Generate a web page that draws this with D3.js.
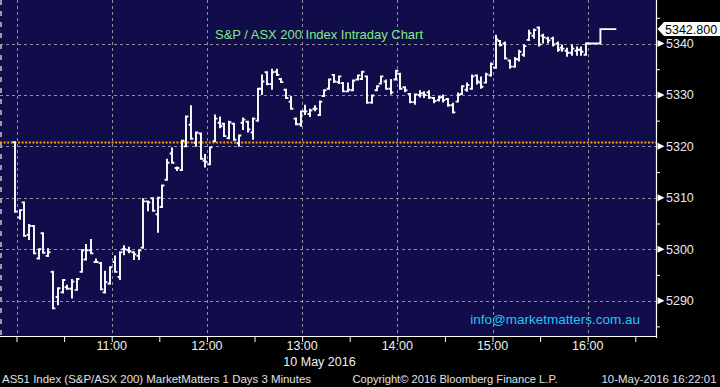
<!DOCTYPE html>
<html><head><meta charset="utf-8">
<script src="https://cdn.jsdelivr.net/npm/d3@7"></script>
<style>html,body{margin:0;padding:0;background:#000;} svg{display:block;}</style>
</head><body>
<svg id="c" width="720" height="387"></svg>
<script>
// ---------- DATA ----------
const tradeDate = "2016-05-10";
const barStart = "10:00";
const barMinutes = 3;
const opens = [5320.8,5306.2,5309.1,5302.8,5304.5,5298.2,5303.1,5298.7,5295.6,5290.7,
5291.6,5292.6,5292.3,5292.1,5295.6,5298.0,5299.8,5297.5,5297.3,5291.6,
5293.3,5297.5,5294.6,5300.0,5299.8,5299.4,5298.7,5300.3,5309.3,5309.9,
5306.8,5308.2,5313.5,5318.6,5315.8,5315.4,5320.0,5324.2,5320.7,5322.5,
5317.2,5316.5,5321.0,5324.6,5324.4,5321.6,5324.4,5320.6,5324.6,5324.8,
5322.7,5325.0,5331.2,5334.4,5332.1,5334.5,5333.1,5331.0,5328.7,5325.4,
5324.3,5326.8,5326.3,5327.3,5326.1,5329.8,5331.2,5333.9,5332.5,5332.3,
5330.7,5330.9,5333.0,5333.1,5333.6,5328.5,5330.9,5332.2,5332.6,5331.2,
5333.0,5334.1,5331.5,5330.2,5328.6,5330.0,5330.3,5330.5,5329.4,5329.0,
5329.6,5329.2,5328.0,5328.7,5330.2,5331.0,5331.2,5333.8,5332.4,5332.4,
5333.8,5335.3,5340.5,5340.0,5336.7,5335.5,5336.9,5337.8,5340.7,5341.5,
5343.1,5341.5,5341.0,5341.0,5340.0,5339.2,5338.6,5338.2,5338.6,5338.8,
5337.8];
const highs = [5320.8,5307.6,5309.1,5304.7,5304.5,5300.0,5303.1,5300.0,5295.6,5292.4,
5294.0,5292.9,5294.0,5294.2,5299.8,5300.8,5301.8,5298.0,5297.3,5295.6,
5296.5,5298.6,5299.4,5300.6,5300.3,5299.4,5299.8,5309.7,5309.3,5309.9,
5310.0,5312.4,5317.4,5319.6,5315.9,5321.1,5325.8,5327.8,5322.7,5322.5,
5318.3,5319.8,5326.0,5325.6,5324.4,5324.8,5324.4,5322.1,5325.4,5324.8,
5325.4,5331.2,5333.8,5334.4,5334.9,5334.9,5333.1,5331.0,5329.6,5325.4,
5326.8,5327.9,5327.1,5327.8,5328.7,5330.9,5333.0,5333.9,5333.6,5332.3,
5332.2,5332.8,5333.8,5334.5,5333.6,5329.9,5331.7,5333.6,5332.8,5332.9,
5334.7,5334.1,5331.5,5330.2,5330.1,5330.7,5330.5,5330.7,5329.4,5329.6,
5329.9,5329.2,5328.3,5330.3,5331.7,5332.2,5333.8,5333.8,5333.4,5334.1,
5336.1,5341.5,5340.5,5340.2,5336.7,5337.2,5338.6,5339.6,5342.5,5342.7,
5343.1,5341.7,5341.1,5341.1,5340.2,5339.6,5339.0,5339.6,5339.2,5339.2,
5340.0];
const lows = [5307.3,5305.9,5302.6,5302.0,5299.2,5298.2,5299.3,5298.7,5288.5,5289.3,
5291.6,5292.3,5290.6,5292.1,5295.6,5298.0,5299.2,5297.5,5292.2,5291.6,
5293.3,5295.6,5294.2,5299.0,5299.4,5298.1,5298.1,5300.3,5307.6,5307.5,
5303.4,5308.2,5313.5,5316.8,5315.4,5315.4,5320.0,5321.5,5320.1,5317.6,
5316.1,5316.5,5321.0,5323.7,5322.0,5321.6,5321.3,5320.1,5323.4,5322.9,
5321.5,5325.0,5330.2,5332.1,5331.2,5333.9,5332.5,5329.4,5327.3,5324.3,
5324.0,5326.3,5325.9,5327.0,5326.1,5329.8,5331.2,5332.5,5332.3,5330.7,
5330.7,5330.9,5333.0,5333.1,5328.5,5328.5,5330.9,5332.2,5331.2,5330.3,
5333.0,5331.2,5330.7,5328.6,5328.3,5329.7,5329.6,5329.4,5328.6,5328.9,
5328.7,5327.9,5326.6,5328.7,5330.2,5330.8,5331.2,5332.2,5331.4,5332.4,
5333.8,5335.3,5339.6,5337.1,5335.3,5335.5,5336.7,5337.6,5340.7,5341.1,
5339.6,5340.2,5340.2,5339.6,5338.6,5338.6,5337.6,5337.8,5337.8,5337.8,
5337.8];
const closes = [5307.3,5307.6,5302.6,5304.5,5299.2,5300.0,5299.3,5299.4,5288.5,5292.4,
5294.0,5292.3,5293.7,5294.2,5299.8,5299.8,5299.2,5297.5,5292.2,5293.6,
5296.5,5295.6,5299.4,5300.0,5299.6,5299.0,5299.8,5309.3,5309.1,5307.5,
5310.0,5312.4,5316.8,5316.8,5315.8,5321.1,5325.8,5321.5,5322.7,5317.6,
5317.0,5319.8,5325.4,5323.9,5322.0,5324.7,5321.3,5322.1,5325.2,5323.3,
5325.4,5331.2,5332.6,5332.1,5334.4,5333.9,5332.5,5329.4,5327.3,5324.3,
5326.8,5326.8,5327.0,5327.3,5328.7,5330.9,5333.0,5332.6,5333.6,5330.7,
5331.0,5332.8,5333.8,5334.5,5328.5,5329.9,5331.7,5333.6,5331.2,5330.5,
5334.7,5331.2,5330.9,5328.6,5330.1,5330.3,5330.0,5329.5,5328.8,5329.5,
5329.0,5328.0,5326.6,5330.0,5331.7,5331.9,5333.6,5332.6,5331.6,5334.0,
5336.0,5340.8,5339.7,5337.1,5335.5,5337.0,5338.4,5339.5,5342.0,5342.6,
5339.8,5341.2,5340.6,5339.8,5338.8,5339.0,5338.2,5339.0,5338.8,5338.4,
5340.0];
const prevClose = 5320.8;
const postTimes = ["15:59","16:08","16:08","16:18"];
const postValues = [5340.0,5340.0,5342.8,5342.8];
const lastValue = 5342.8;
const yMajorTicks = [5290,5300,5310,5320,5330,5340];
const yMinorTicks = [5285,5295,5305,5315,5325,5335,5345];
const gridHours = ["10:00","11:00","12:00","13:00","14:00","15:00","16:00"];
const hourLabels = ["11:00","12:00","13:00","14:00","15:00","16:00"];
const titleText = "S&P / ASX 200 Index Intraday Chart";
const dateLabel = "10 May 2016";
const footerLeft = "AS51 Index (S&P/ASX 200) MarketMatters 1 Days 3 Minutes";
const footerMid = "Copyright\u00A9 2016 Bloomberg Finance L.P.";
const footerRight = "10-May-2016 16:22:01";
const watermark = "info@marketmatters.com.au";

// ---------- CHART ----------
const W = 720, H = 387, plotW = 656, plotH = 337;
const FONT = "'Liberation Sans', Arial, sans-serif";
const svg = d3.select("#c");
const parseT = d3.timeParse("%Y-%m-%d %H:%M:%S");
const at = s => parseT(tradeDate + " " + (s.length === 5 ? s + ":00" : s));

const x = d3.scaleTime().domain([at("09:49:36"), at("16:43:02")]).range([0, plotW]);
const y = d3.scaleLinear().domain([5282.93, 5348.46]).range([plotH, 0]);

svg.append("rect").attr("width", W).attr("height", H).attr("fill", "#000");
svg.append("rect").attr("width", plotW).attr("height", plotH).attr("fill", "#100d4a");

const grid = svg.append("g").attr("stroke", "#8f8fa0").attr("stroke-width", 1).attr("stroke-dasharray", "3,3");
yMajorTicks.forEach(v => {
  const yy = Math.round(y(v)) + 0.5;
  grid.append("line").attr("x1", 0).attr("x2", plotW).attr("y1", yy).attr("y2", yy);
});
gridHours.forEach(h => {
  const xx = Math.round(x(at(h))) + 0.5;
  grid.append("line").attr("x1", xx).attr("x2", xx).attr("y1", 0).attr("y2", plotH);
});
// left edge dashed marker
svg.append("line").attr("x1", 1).attr("x2", 1).attr("y1", 0).attr("y2", plotH)
  .attr("stroke", "#9a9aa6").attr("stroke-width", 2).attr("stroke-dasharray", "5,6");

// previous close line
svg.append("line").attr("x1", 0).attr("x2", plotW)
  .attr("y1", Math.round(y(prevClose)) + 0.5).attr("y2", Math.round(y(prevClose)) + 0.5)
  .attr("stroke", "#ff9c00").attr("stroke-width", 2.2).attr("stroke-dasharray", "2,1.6");

// OHLC bars
const t0 = at(barStart);
const bars = opens.map((o, i) => ({
  t: d3.timeMinute.offset(t0, i * barMinutes - 1), o, h: highs[i], l: lows[i], c: closes[i]
}));
const tk = 2.4;
svg.append("g").selectAll("path").data(bars).join("path")
  .attr("d", d => {
    const xc = Math.round(x(d.t));
    return `M${xc},${y(d.h) - 1}V${y(d.l) + 1}M${xc - tk},${y(d.o)}H${xc}M${xc},${y(d.c)}H${xc + tk}`;
  })
  .attr("fill", "none").attr("stroke", "#fff").attr("stroke-width", 1.9);

// post-close step
const post = postTimes.map((t, i) => [x(at(t)), y(postValues[i])]);
svg.append("path").attr("d", d3.line()(post)).attr("fill", "none")
  .attr("stroke", "#fff").attr("stroke-width", 1.9);

// borders
svg.append("line").attr("x1", plotW + 0.5).attr("x2", plotW + 0.5).attr("y1", 0).attr("y2", plotH + 1)
  .attr("stroke", "#fff").attr("stroke-width", 1.2);
svg.append("line").attr("x1", 0).attr("x2", plotW + 1).attr("y1", plotH - 0.5).attr("y2", plotH - 0.5)
  .attr("stroke", "#fff").attr("stroke-width", 1.2);

// y axis (right)
const yAxis = d3.axisRight(y).tickValues(yMinorTicks).tickSize(4).tickFormat("");
const gy = svg.append("g").attr("transform", `translate(${plotW},0)`).call(yAxis);
gy.select(".domain").remove();
gy.selectAll(".tick line").attr("stroke", "#fff");
const yLab = svg.append("g");
yMajorTicks.forEach(v => {
  const yy = y(v);
  yLab.append("path").attr("d", `M657.5,${yy - 3.5}L664.5,${yy}L657.5,${yy + 3.5}Z`).attr("fill", "#fff");
  yLab.append("text").attr("x", 666).attr("y", yy).attr("dy", "0.36em")
    .attr("font-family", FONT).attr("font-size", 12.5).attr("fill", "#e8e8ee").text(d3.format("d")(v));
});
// last value tag
const ly = y(lastValue);
svg.append("path").attr("d", `M657.5,${ly}L664,${ly - 7}H720V${ly + 7}H664Z`).attr("fill", "#fff");
svg.append("text").attr("x", 665).attr("y", ly).attr("dy", "0.36em")
  .attr("font-family", FONT).attr("font-size", 12.5).attr("fill", "#000").text(d3.format(".3f")(lastValue));

// x axis (bottom)
const xAxis = d3.axisBottom(x).ticks(d3.timeMinute.every(30)).tickSize(5).tickFormat("");
const gx = svg.append("g").attr("transform", `translate(0,${plotH})`).call(xAxis);
gx.select(".domain").remove();
gx.selectAll(".tick line").attr("stroke", "#fff");
hourLabels.forEach(h => {
  svg.append("text").attr("x", x(at(h))).attr("y", 350).attr("text-anchor", "middle")
    .attr("font-family", FONT).attr("font-size", 12.5).attr("fill", "#f0f0f0").text(h);
});
svg.append("text").attr("x", 319.5).attr("y", 366).attr("text-anchor", "middle")
  .attr("font-family", FONT).attr("font-size", 12.5).attr("fill", "#f0f0f0").text(dateLabel);

// footer
const foot = (txt, x0, len) => svg.append("text").attr("x", x0).attr("y", 383)
  .attr("font-family", FONT).attr("font-size", 11.5).attr("fill", "#e0e0e6")
  .attr("textLength", len).attr("lengthAdjust", "spacingAndGlyphs").text(txt);
foot(footerLeft, 2, 309);
foot(footerMid, 352.5, 205);
foot(footerRight, 601.5, 115);

// title and watermark
svg.append("text").attr("x", 215).attr("y", 38.7).attr("font-family", FONT).attr("font-size", 13)
  .attr("fill", "#82e882").attr("textLength", 208).attr("lengthAdjust", "spacingAndGlyphs").text(titleText);
svg.append("text").attr("x", 640).attr("y", 323.5).attr("text-anchor", "end").attr("font-family", FONT)
  .attr("font-size", 13.5).attr("fill", "#22c6f2").text(watermark);
</script>
</body></html>
